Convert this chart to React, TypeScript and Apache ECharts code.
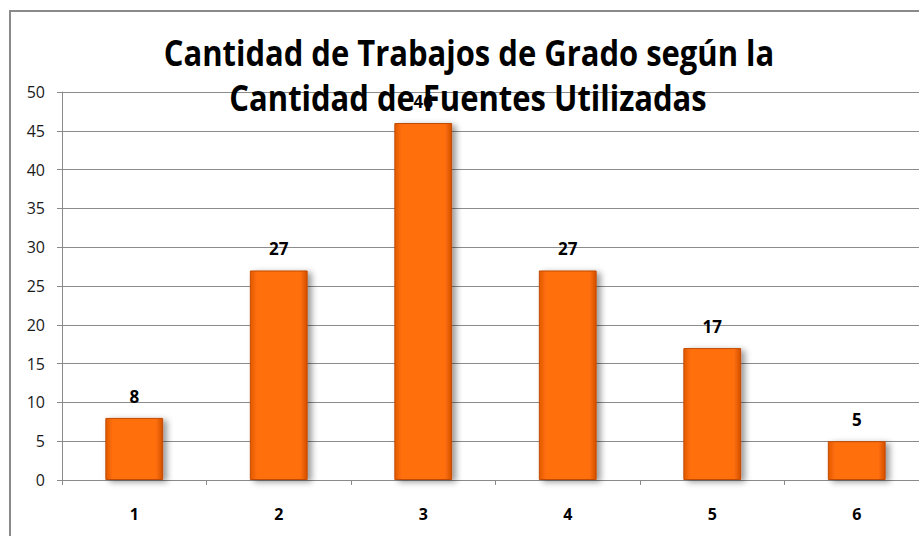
import React, { useEffect, useRef } from "react";
import * as echarts from "echarts";

const categories = ["1", "2", "3", "4", "5", "6"];
const values = [8, 27, 46, 27, 17, 5];
const titleLines = ["Cantidad de Trabajos de Grado según la", "Cantidad de Fuentes Utilizadas"];
const yMin = 0;
const yMax = 50;
const yInterval = 5;

export default function App() {
  const ref = useRef<HTMLDivElement>(null);
  useEffect(() => {
    if (!ref.current) return;
    const chart = echarts.init(ref.current, undefined, { renderer: "svg" });
    const barColor = {
      type: "linear",
      x: 0, y: 0, x2: 1, y2: 0,
      colorStops: [
        { offset: 0, color: "#E25A00" },
        { offset: 0.12, color: "#FF6F0C" },
        { offset: 0.88, color: "#FF6F0C" },
        { offset: 1, color: "#D45000" },
      ],
    };
    chart.setOption({
      animation: false,
      backgroundColor: "#ffffff",
      graphic: [
        {
          type: "rect",
          shape: { x: 10, y: 11, width: 1200, height: 1000 },
          style: { fill: "none", stroke: "#8a8a8a", lineWidth: 2 },
          z: 0,
          silent: true,
        },
        {
          type: "text",
          x: 469,
          y: 53,
          scaleX: 0.885,
          z: 100,
          style: {
            text: titleLines[0],
            align: "center",
            verticalAlign: "middle",
            font: "bold 35px 'Open Sans'",
            fill: "#000000",
          },
        },
        {
          type: "text",
          x: 468,
          y: 98,
          scaleX: 0.885,
          z: 100,
          style: {
            text: titleLines[1],
            align: "center",
            verticalAlign: "middle",
            font: "bold 35px 'Open Sans'",
            fill: "#000000",
          },
        },
      ],
      grid: { left: 62, top: 92, width: 867, bottom: 56, containLabel: false },
      xAxis: {
        type: "category",
        data: categories,
        axisLine: { show: true, lineStyle: { color: "#8a8a8a", width: 1 } },
        axisTick: { show: true, length: 5, alignWithLabel: false, lineStyle: { color: "#8a8a8a" } },
        axisLabel: {
          margin: 26,
          fontFamily: "'Open Sans'",
          fontWeight: "bold",
          fontSize: 16,
          color: "#000000",
        },
        splitLine: { show: false },
      },
      yAxis: {
        type: "value",
        min: yMin,
        max: yMax,
        interval: yInterval,
        axisLine: { show: true, lineStyle: { color: "#8a8a8a", width: 1 } },
        axisTick: { show: true, length: 5, lineStyle: { color: "#8a8a8a" } },
        axisLabel: {
          margin: 17,
          fontFamily: "'Open Sans'",
          fontSize: 16,
          color: "#1a1a1a",
        },
        splitLine: { show: true, lineStyle: { color: "#8c8c8c", width: 1 } },
      },
      series: [
        {
          type: "bar",
          data: values,
          barWidth: "40%",
          itemStyle: {
            color: barColor,
            borderColor: "#C24A00",
            borderWidth: 1,
            shadowColor: "rgba(0,0,0,0.4)",
            shadowBlur: 6,
            shadowOffsetX: 4,
            shadowOffsetY: 2,
          },
          label: {
            show: true,
            position: "top",
            distance: 13,
            fontFamily: "'Open Sans'",
            fontWeight: "bold",
            fontSize: 17,
            color: "#000000",
          },
        },
      ],
    });
    return () => chart.dispose();
  }, []);
  return (
    <div
      ref={ref}
      style={{ position: "fixed", left: 0, top: 0, width: 950, height: 536 }}
    />
  );
}
